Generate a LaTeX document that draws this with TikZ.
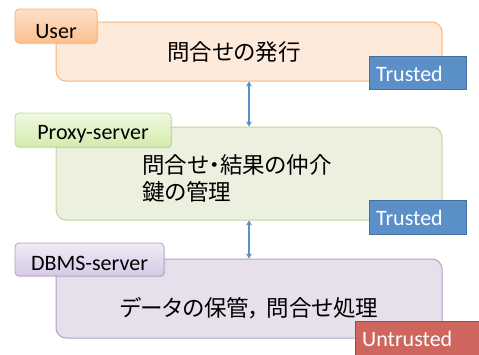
\documentclass[tikz,border=0pt]{standalone}
\usepackage{fontspec}
\setmainfont{Carlito}
\newfontfamily\jp[RawFeature=+palt]{Noto Sans CJK JP}
\usetikzlibrary{shadows,arrows.meta}
\definecolor{uFill}{HTML}{FDEADA}
\definecolor{uLine}{HTML}{F9B47C}
\definecolor{uTabT}{HTML}{FDE0C8}
\definecolor{uTabB}{HTML}{FAC08F}
\definecolor{pFill}{HTML}{EBF1DE}
\definecolor{pLine}{HTML}{C3D69B}
\definecolor{pTabT}{HTML}{F0F9E0}
\definecolor{pTabB}{HTML}{D3EBAE}
\definecolor{dFill}{HTML}{E6E0EC}
\definecolor{dLine}{HTML}{B3A2C7}
\definecolor{dTabT}{HTML}{F0EBF6}
\definecolor{dTabB}{HTML}{D6C9E6}
\definecolor{tFill}{HTML}{5B8FC8}
\definecolor{tLine}{HTML}{41719C}
\definecolor{nFill}{HTML}{CF665E}
\definecolor{nLine}{HTML}{A9453D}
\definecolor{arrC}{HTML}{5B8FC8}
\tikzset{
  mainbox/.style={draw, line width=1pt, rounded corners=10pt, minimum width=386pt, inner sep=0pt},
  tabbox/.style={draw, line width=0.8pt, rounded corners=4pt, inner sep=0pt,
     drop shadow={shadow xshift=1pt, shadow yshift=-1.2pt, opacity=0.25}},
  flagbox/.style={draw, line width=0.8pt, inner sep=0pt},
  lbl/.style={font=\fontsize{22}{25}\selectfont, anchor=base, inner sep=0pt},
  flaglbl/.style={font=\fontsize{22}{25}\selectfont, text=white, anchor=base west, inner sep=0pt},
  jptxt/.style={font=\jp\fontsize{22.5}{27}\selectfont, inner sep=0pt},
  arr/.style={draw=arrC, line width=1.5pt, {Stealth[length=5pt,width=6pt]}-{Stealth[length=5pt,width=6pt]}}
}
\begin{document}
\begin{tikzpicture}[x=1pt,y=-1pt]
\useasboundingbox (0,0) rectangle (479,354);
% User
\node[mainbox, fill=uFill, draw=uLine, minimum height=59pt] (ubox) at (249,51.5) {};
\node[tabbox, top color=uTabT, bottom color=uTabB, draw=uLine, minimum width=82pt, minimum height=34pt] (utab) at (56,26) {};
\node[lbl] (ulbl) at (56,38) {User};
\node[jptxt] (utxt) at (234,52) {問合せの発行};
\node[flagbox, fill=tFill, draw=tLine, minimum width=97pt, minimum height=33pt] (t1) at (417.5,72.5) {};
\node[flaglbl] (t1l) at (376,81.5) {Trusted};
% Proxy
\node[mainbox, fill=pFill, draw=pLine, minimum height=93pt] (pbox) at (249,173.5) {};
\node[tabbox, top color=pTabT, bottom color=pTabB, draw=pLine, minimum width=156pt, minimum height=34pt] (ptab) at (93,130) {};
\node[lbl] (plbl) at (93,139.3) {Proxy-server};
\node[jptxt, anchor=west, align=left] (ptxt) at (142,178.5) {問合せ・結果の仲介\\鍵の管理};
\node[flagbox, fill=tFill, draw=tLine, minimum width=97pt, minimum height=34pt] (t2) at (417.5,217) {};
\node[flaglbl] (t2l) at (376,225) {Trusted};
% DBMS
\node[mainbox, fill=dFill, draw=dLine, minimum height=79pt] (dbox) at (249,298.5) {};
\node[tabbox, top color=dTabT, bottom color=dTabB, draw=dLine, minimum width=149pt, minimum height=33pt] (dtab) at (89.5,259.5) {};
\node[lbl] (dlbl) at (89.5,270.7) {DBMS-server};
\node[jptxt] (dtxt) at (249,308) {データの保管，\hspace{6pt}問合せ処理};
\node[flagbox, fill=nFill, draw=nLine, minimum width=130pt, minimum height=40pt] (u1) at (420,341) {};
\node[flaglbl] (u1l) at (362,346) {Untrusted};
% arrows
\draw[arr] (ubox.south) -- (pbox.north);
\draw[arr] (pbox.south) -- (dbox.north);
\end{tikzpicture}
\end{document}
